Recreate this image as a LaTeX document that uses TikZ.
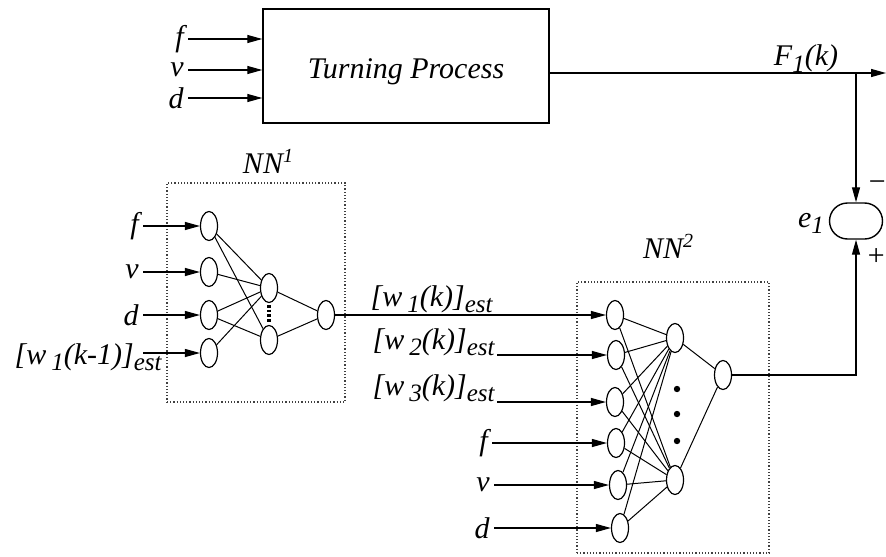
\documentclass[tikz,border=0pt]{standalone}
\usepackage{fontspec}
\setmainfont{Liberation Serif}
\usetikzlibrary{arrows.meta,positioning,shapes.geometric}
\newcommand{\dn}[1]{\raisebox{-0.5ex}{\fontsize{12.5}{13}\selectfont #1}}
\newcommand{\up}[1]{\raisebox{0.75ex}{\fontsize{10}{11}\selectfont #1}}

\begin{document}
\begin{tikzpicture}[
  x=0.5pt, y=-0.5pt,
  every node/.style={font=\fontsize{15}{17}\selectfont\itshape},
  lbl/.style={inner sep=2pt},
  neuron/.style={draw, ellipse, minimum width=8.5pt, minimum height=14.5pt,
                 inner sep=0pt, line width=0.6pt},
  netbox/.style={draw=black!75, densely dotted, line width=0.6pt, inner sep=0pt},
  arr/.style={-{Triangle[length=7.5pt,width=4pt]}, line width=0.6pt},
  wire/.style={line width=0.5pt}
]
\useasboundingbox (0,0) rectangle (886,556);

% plant
\node[draw, line width=0.7pt, minimum width=143pt, minimum height=57pt,
      text height=14pt, text depth=2pt] (tp) at (406,66) {Turning Process};
\foreach \t/\y [count=\i] in {f/39, v/70, d/98} {
  \node[lbl, anchor=east] (pin\i) at (188,\y) {\t};
  \draw[arr] (pin\i.east) -- (tp.west |- pin\i.east);
}
\coordinate (out) at (886,73);
\draw[arr] (tp.east |- out) -- (out);
\node[anchor=base] (fk) at (806,66) {F\dn{1}(k)};

% error junction
\node[draw, rounded corners=9pt, minimum width=26.5pt, minimum height=18pt, line width=0.7pt] (sum) at (856,221) {};
\draw[arr] (sum.north |- out) -- (sum.north);
\node[anchor=base west] (elab) at (791,227) {e\dn{1}};
\node (minus) at (877,186) {−};
\node (plus) at (876,257) {+};

% NN1
\node[netbox, minimum width=89pt, minimum height=109.5pt] (box1) at (256,292.5) {};
\node[anchor=base] (nn1) at (268,173) {NN\up{1}};
\foreach \y [count=\i] in {226,272,315,353}
  \node[neuron] (i\i) at (209,\y) {};
\node[neuron] (h1) at (269,288) {};
\node[neuron] (h2) at (269,340) {};
\node[neuron] (o1) at (326,315) {};
\foreach \i/\j in {1/1,1/2,2/1,3/1,3/2,4/1}
  \draw[wire] (i\i) -- (h\j);
\draw[wire] (h1) -- (o1);
\draw[wire] (h2) -- (o1);
\draw[line width=1.6pt, dash pattern=on 1.3pt off 1pt, shorten <=1pt, shorten >=1pt] (h1.south) -- (h2.north);
\foreach \t/\y [count=\i] in {f/226, v/272, d/315} {
  \coordinate (s\i) at (143,\y);
  \node[lbl, anchor=east] (sl\i) at (s\i) {\t};
  \draw[arr] (s\i) -- (i\i);
}
\coordinate (s4) at (143,353);
\node[lbl, anchor=base east] (sl4) at (166,364) {[w\,\dn{1}(k-1)]\dn{est}};
\draw[arr] (s4) -- (i4);

% NN2
\node[netbox, minimum width=96pt, minimum height=135.5pt] (box2) at (673,417.5) {};
\node[anchor=base] (nn2) at (668,258) {NN\up{2}};
\foreach \x/\y [count=\i] in {615/315,616/355,615/402,616/443,618/485,620/528}
  \node[neuron] (j\i) at (\x,\y) {};
\node[neuron] (k1) at (675,338) {};
\node[neuron] (k2) at (675,480) {};
\node[neuron] (o2) at (723,375) {};
\foreach \i in {1,...,6}
  \foreach \j in {1,2}
    \draw[wire] (j\i) -- (k\j);
\draw[wire] (k1) -- (o2);
\draw[wire] (k2) -- (o2);
\foreach \y in {389,414,441}
  \fill (677,\y) circle (1.6pt);

% NN2 inputs
\draw[arr] (o1) -- (j1);
\node[lbl, anchor=base east] (tl1) at (497,306) {[w\,\dn{1}(k)]\dn{est}};
\coordinate (t2) at (497,355);
\node[lbl, anchor=base east] (tl2) at (499,349) {[w\,\dn{2}(k)]\dn{est}};
\draw[arr] (t2) -- (j2);
\coordinate (t3) at (497,402);
\node[lbl, anchor=base east] (tl3) at (499,395) {[w\,\dn{3}(k)]\dn{est}};
\draw[arr] (t3) -- (j3);
\foreach \t/\x/\y [count=\i from 4] in {f/492/443, v/494/485, d/494/528} {
  \coordinate (t\i) at (\x,\y);
  \node[lbl, anchor=east] (tl\i) at (t\i) {\t};
  \draw[arr] (t\i) -- (j\i);
}

% output to error
\draw[arr] (o2) -| (sum.south);
\end{tikzpicture}
\end{document}
